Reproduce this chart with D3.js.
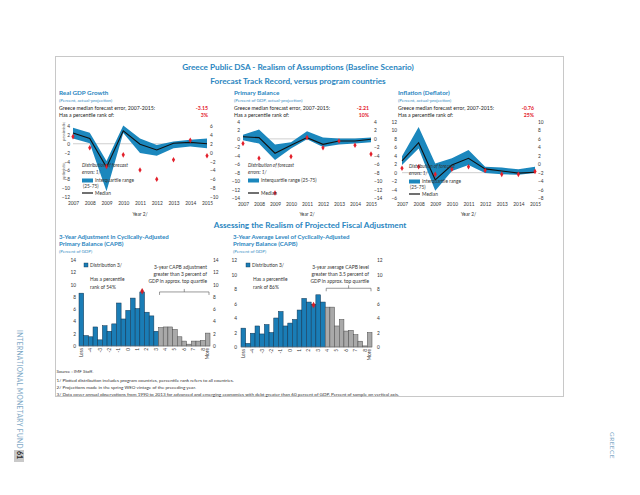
<!DOCTYPE html>
<html><head><meta charset="utf-8">
<script src="https://cdn.jsdelivr.net/npm/d3@7"></script>
<style>body{margin:0;background:#fff}svg{display:block;font-family:Lato,'Open Sans',sans-serif}</style>
</head><body><svg id="c" width="640" height="495"></svg>
<script>
// ---------- data ----------
const years = [2007, 2008, 2009, 2010, 2011, 2012, 2013, 2014, 2015];

const gdpQ75 = [3.6, 2.5, -3.9, 4.1, 1.2, -0.3, 0.5, 0.9, 1.2];
const gdpQ25 = [1.2, 0.1, -10.7, 2.4, -2.1, -2.7, -1.0, -0.6, -1.0];
const gdpMedian = [2.4, 1.2, -5.3, 2.9, -0.1, -1.4, 0.1, 0.3, 0.0];
const gdpGreece = [1.6, -0.9, -5.1, -2.5, -5.9, -8.0, -3.6, 0.8, -2.7];

const pbQ75 = [1.0, 2.2, -1.3, -0.8, 1.8, 0.3, 0.1, 0.1, 0.3];
const pbQ25 = [-0.3, -1.1, -5.0, -2.3, -0.1, -1.9, -1.3, -1.1, -0.8];
const pbMedian = [0.5, 0.3, -3.4, -1.5, 0.3, -1.3, -0.5, -0.5, -0.1];
const pbGreece = [-1.1, -4.6, -12.8, -4.2, 0.3, -2.1, -0.5, -1.5, -3.6];

const infQ75 = [3.9, 10.8, 2.2, 3.4, 5.35, 1.4, 1.2, 0.8, 1.4];
const infQ25 = [1.8, 5.7, -4.3, 0.4, 1.8, -0.1, -0.4, -0.5, -0.1];
const infMedian = [2.8, 7.1, -1.7, 1.8, 3.4, 0.9, 0.4, -0.1, 0.1];
const infGreece = [1.05, 1.4, -0.4, 0.8, 1.4, 0.5, -0.4, -0.4, 0.3];

const gdpLeftTicks = [4, 2, 0, -2, -4, -6, -8, -10, -12];
const gdpRightTicks = [6, 4, 2, 0, -2, -4, -6, -8, -10];
const pbLeftTicks = [4, 2, 0, -2, -4, -6, -8, -10, -12, -14];
const pbRightTicks = [4, 2, 0, -2, -4, -6, -8, -10, -12, -14];
const infLeftTicks = [12, 10, 8, 6, 4, 2, 0, -2, -4, -6];
const infRightTicks = [10, 8, 6, 4, 2, 0, -2, -4, -6, -8];

const binLabels = ["Less", "-4.5", "-4", "-3.5", "-3", "-2.5", "-2", "-1.5", "-1", "-0.5", "0", "0.5", "1", "1.5",
  "2", "2.5", "3", "3.5", "4", "4.5", "5", "5.5", "6", "6.5", "7", "7.5", "8", "More"];
const shownBinLabels = ["Less", "-4", "-3", "-2", "-1", "0", "1", "2", "3", "4", "5", "6", "7", "8", "More"];
const capbAdj = [8.6, 1.7, 1.5, 3.1, 1.0, 3.3, 2.4, 3.6, 7.0, 4.4, 5.8, 7.8, 6.1, 8.8, 5.5, 4.9, 2.4,
  3.0, 3.1, 3.1, 2.7, 1.5, 0.8, 0.3, 0.8, 0.8, 0.9, 2.1];
const capbLevel = [2.6, 0.5, 1.9, 2.9, 1.8, 3.1, 2.0, 4.0, 4.9, 2.9, 3.3, 3.8, 5.1, 6.7, 6.2, 5.9, 7.2, 6.2,
  5.5, 5.5, 2.9, 3.8, 2.2, 2.3, 1.7, 0.8, 0.15, 2.0];
const capbAdjThreshold = 3, capbLevelThreshold = 3.5;
const capbAdjGreece = {bin: "1.5", value: 8.9};
const capbLevelGreece = {bin: "2.5", value: 5.8};
const capbAdjTicks = [0, 2, 4, 6, 8, 10, 12, 14];
const capbLevelTicks = [0, 2, 4, 6, 8, 10, 12];

// ---------- drawing ----------
const svg = d3.select("#c");
const BLUE = "#1b87bd", TITLE = "#2a86bf", RED = "#e3202b";

// page decorations
svg.append("rect").attr("x", 55.5).attr("y", 56.5).attr("width", 508).attr("height", 340)
  .attr("fill", "none").attr("stroke", "#c8c8c8").attr("stroke-width", 1);
svg.append("text").attr("transform", "translate(17,330) rotate(90)")
  .attr("font-size", 6.6).attr("letter-spacing", 0.35).attr("fill", "#7ea9c6")
  .text("INTERNATIONAL MONETARY FUND");
svg.append("rect").attr("x", 14).attr("y", 450).attr("width", 10).attr("height", 12).attr("fill", "#c9c9c9");
svg.append("text").attr("transform", "translate(17,451) rotate(90)")
  .attr("font-size", 7).attr("font-weight", "bold").attr("fill", "#222").text("61");
svg.append("text").attr("transform", "translate(610,432) rotate(90)")
  .attr("font-size", 6.4).attr("letter-spacing", 0.5).attr("fill", "#7ea9c6").text("GREECE");

// titles
svg.append("text").attr("x", 298).attr("y", 69.5).attr("text-anchor", "middle")
  .attr("font-size", 8.2).attr("font-weight", "bold").attr("fill", TITLE)
  .text("Greece Public DSA - Realism of Assumptions (Baseline Scenario)");
svg.append("text").attr("x", 298).attr("y", 83.5).attr("text-anchor", "middle")
  .attr("font-size", 8.2).attr("font-weight", "bold").attr("fill", TITLE)
  .text("Forecast Track Record, versus program countries");
svg.append("text").attr("x", 310).attr("y", 228).attr("text-anchor", "middle")
  .attr("font-size", 8.2).attr("font-weight", "bold").attr("fill", TITLE)
  .text("Assessing the Realism of Projected Fiscal Adjustment");

function txt(x, y, s, o = {}) {
  const t = svg.append("text").attr("x", x).attr("y", y).text(s)
    .attr("font-size", o.size || 5).attr("fill", o.fill || "#222");
  if (o.anchor) t.attr("text-anchor", o.anchor);
  if (o.bold) t.attr("font-weight", "bold");
  if (o.italic) t.attr("font-style", "italic");
  return t;
}

function drawTrack(c) {
  const x = d3.scalePoint().domain(years).range([c.x0, c.x1]);
  const yL = d3.scaleLinear().domain(c.leftDomain).range([c.yBot, c.yTop]);
  const yR = d3.scaleLinear().domain(c.rightDomain).range([c.yBot, c.yTop]);
  const rows = years.map((yr, i) => ({yr, hi: c.q75[i], lo: c.q25[i], med: c.median[i], gr: c.greece[i]}));

  // headings
  txt(c.tx, 95, c.title, {size: 6.3, bold: true, fill: TITLE});
  txt(c.tx, 101.5, c.subtitle, {size: 4.5, fill: "#3b8fc4"});
  txt(c.tx, 110, "Greece median forecast error, 2007-2015:", {size: 5.2});
  txt(c.tx, 116.5, "Has a percentile rank of:", {size: 5.2});
  txt(c.vx, 110, c.err, {size: 5.2, bold: true, fill: RED, anchor: "end"});
  txt(c.vx, 116.5, c.rank, {size: 5.2, bold: true, fill: RED, anchor: "end"});

  // zero line
  svg.append("line").attr("x1", c.x0).attr("x2", c.x1).attr("y1", yL(0)).attr("y2", yL(0))
    .attr("stroke", "#b0b0b0").attr("stroke-width", 0.6);

  // band
  svg.append("path").datum(rows).attr("fill", BLUE)
    .attr("d", d3.area().x(d => x(d.yr)).y0(d => yL(d.lo)).y1(d => yL(d.hi)));
  // median
  svg.append("path").datum(rows).attr("fill", "none").attr("stroke", "#111").attr("stroke-width", 1.1)
    .attr("d", d3.line().x(d => x(d.yr)).y(d => yL(d.med)));
  // Greece
  svg.append("g").selectAll("path").data(rows).join("path")
    .attr("transform", d => `translate(${x(d.yr)},${yL(d.gr)})`)
    .attr("d", d3.symbol(d3.symbolDiamond, 9)).attr("fill", RED);

  // axes
  const gl = svg.append("g").attr("transform", `translate(${c.x0},0)`)
    .call(d3.axisLeft(yL).tickValues(c.leftTicks).tickSize(0).tickPadding(c.padL).tickFormat(d3.format("d")));
  const gr = svg.append("g").attr("transform", `translate(${c.x1},0)`)
    .call(d3.axisRight(yR).tickValues(c.rightTicks).tickSize(0).tickPadding(c.padR).tickFormat(d3.format("d")));
  const gx = svg.append("g").attr("transform", `translate(0,${c.yBot + 5})`)
    .call(d3.axisBottom(x).tickSize(0).tickPadding(0).tickFormat(d3.format("d")));
  [gl, gr, gx].forEach(g => {
    g.select(".domain").remove();
    g.selectAll("text").attr("font-size", 4.8).attr("fill", "#333").attr("font-family", "Lato, sans-serif");
  });
  txt((c.x0 + c.x1) / 2, 216, "Year 2/", {size: 4.8, anchor: "middle", fill: "#333"});

  // legend
  const L = c.legend;
  txt(L.x, L.y, "Distribution of forecast", {size: 4.8, italic: true, fill: "#333"});
  txt(L.x, L.y + 6.5, "errors: 1/", {size: 4.8, italic: true, fill: "#333"});
  svg.append("rect").attr("x", L.x).attr("y", L.y + 11.5).attr("width", 11).attr("height", 4).attr("fill", BLUE);
  txt(L.x + 13, L.y + 15.2, L.iqr, {size: 4.8, fill: "#333"});
  if (L.iqr2) txt(L.x + 1, L.y + 20.5, L.iqr2, {size: 4.8, fill: "#333"});
  svg.append("line").attr("x1", L.x).attr("x2", L.x + 11).attr("y1", L.y + L.medDy).attr("y2", L.y + L.medDy)
    .attr("stroke", "#111").attr("stroke-width", 1.2);
  txt(L.x + 13, L.y + L.medDy + 1.7, "Median", {size: 4.8, fill: "#333"});
}

drawTrack({
  x0: 73, x1: 207, yTop: 126, yBot: 197, leftDomain: [-12, 4], rightDomain: [-10, 6],
  leftTicks: gdpLeftTicks, rightTicks: gdpRightTicks, padL: 3, padR: 3,
  q75: gdpQ75, q25: gdpQ25, median: gdpMedian, greece: gdpGreece,
  title: "Real GDP Growth", subtitle: "(Percent, actual-projection)", tx: 59, vx: 208, err: "-3.15", rank: "3%",
  legend: {x: 82, y: 167, iqr: "Interquartile range", iqr2: "(25-75)", medDy: 26}
});
drawTrack({
  x0: 243, x1: 371, yTop: 122, yBot: 198, leftDomain: [-14, 4], rightDomain: [-14, 4],
  leftTicks: pbLeftTicks, rightTicks: pbRightTicks, padL: 3, padR: 3,
  q75: pbQ75, q25: pbQ25, median: pbMedian, greece: pbGreece,
  title: "Primary Balance", subtitle: "(Percent of GDP, actual-projection)", tx: 234, vx: 369, err: "-2.21", rank: "10%",
  legend: {x: 248, y: 167, iqr: "Interquartile range (25-75)", iqr2: null, medDy: 26}
});
drawTrack({
  x0: 402, x1: 535, yTop: 122, yBot: 198, leftDomain: [-6, 12], rightDomain: [-8, 10],
  leftTicks: infLeftTicks, rightTicks: infRightTicks, padL: 5, padR: 3,
  q75: infQ75, q25: infQ25, median: infMedian, greece: infGreece,
  title: "Inflation (Deflator)", subtitle: "(Percent, actual-projection)", tx: 398, vx: 534, err: "-0.76", rank: "25%",
  legend: {x: 409, y: 168, iqr: "Interquartile range", iqr2: "(25-75)", medDy: 26}
});

// optimistic / pessimistic labels on GDP panel
svg.append("text").attr("transform", "translate(65,141) rotate(-90)").attr("font-size", 4)
  .attr("fill", "#555").text("pessimistic");
svg.append("text").attr("transform", "translate(65,180) rotate(-90)").attr("font-size", 4)
  .attr("fill", "#555").text("optimistic");

function drawHist(c) {
  const x = d3.scaleBand().domain(binLabels).range([c.x0, c.x1]).padding(0);
  const y = d3.scaleLinear().domain([0, c.max]).range([c.yBot, c.yTop]);
  const rows = binLabels.map((b, i) => ({b, v: c.values[i],
    grey: b === "More" || (b !== "Less" && +b > c.threshold)}));

  txt(c.tx, 239, c.title1, {size: 6.1, bold: true, fill: TITLE});
  txt(c.tx, 246, c.title2, {size: 6.1, bold: true, fill: TITLE});
  txt(c.tx, 252.5, "(Percent of GDP)", {size: 4.5, fill: "#3b8fc4"});

  svg.append("g").selectAll("rect").data(rows).join("rect")
    .attr("x", d => x(d.b)).attr("width", x.bandwidth())
    .attr("y", d => y(d.v)).attr("height", d => y(0) - y(d.v))
    .attr("fill", d => d.grey ? "#a9a9a9" : "#1a7db6")
    .attr("stroke", d => d.grey ? "#4a4a4a" : "#10334f").attr("stroke-width", 0.5);
  svg.append("line").attr("x1", c.x0).attr("x2", c.x1).attr("y1", y(0)).attr("y2", y(0))
    .attr("stroke", "#888").attr("stroke-width", 0.5);

  svg.append("path").attr("d", d3.symbol(d3.symbolDiamond, 12)())
    .attr("transform", `translate(${x(c.greece.bin) + x.bandwidth() / 2},${y(c.greece.value)})`)
    .attr("fill", "#d0202a");

  const gl = svg.append("g").attr("transform", `translate(${c.x0},0)`)
    .call(d3.axisLeft(y).tickValues(c.ticks).tickSize(0).tickPadding(c.padL));
  const gr = svg.append("g").attr("transform", `translate(${c.x1},0)`)
    .call(d3.axisRight(y).tickValues(c.ticks).tickSize(0).tickPadding(c.padR));
  const gx = svg.append("g").attr("transform", `translate(0,${c.yBot + 2})`)
    .call(d3.axisBottom(x).tickValues(shownBinLabels).tickSize(0).tickPadding(0));
  [gl, gr, gx].forEach(g => {
    g.select(".domain").remove();
    g.selectAll("text").attr("font-size", 4.8).attr("fill", "#333").attr("font-family", "Lato, sans-serif");
  });
  gx.selectAll("text").attr("transform", "rotate(-90)").attr("text-anchor", "end")
    .attr("dy", "0.32em").attr("x", 0).attr("y", 0);

  // legend
  svg.append("rect").attr("x", c.x0 + 5).attr("y", 263).attr("width", 4).attr("height", 4).attr("fill", "#1a7db6")
    .attr("stroke", "#10334f").attr("stroke-width", 0.4);
  txt(c.x0 + 11, 267, "Distribution 3/", {size: 4.9, fill: "#333"});
  txt(c.rankX, 281, "Has a percentile", {size: 4.9, fill: "#333"});
  txt(c.rankX, 288.5, "rank of " + c.rank, {size: 4.9, fill: "#333"});
  c.note.forEach((s, i) => txt(c.x1 - 3, 269 + i * 7.2, s, {size: 4.9, anchor: "end", fill: "#333"}));

  // bracket over top quartile
  const bx0 = x(rows.find(d => d.grey).b) + 1, bx1 = c.x1 - 1, by = y(c.bracketAt);
  const mid = (bx0 + bx1) / 2;
  svg.append("path").attr("fill", "none").attr("stroke", "#555").attr("stroke-width", 0.6)
    .attr("d", `M${bx0},${by + 3}V${by}H${bx1}V${by + 3}M${mid},${by}V${by - 3}`);
}

drawHist({
  x0: 79, x1: 210, yTop: 260, yBot: 346, max: 14, ticks: capbAdjTicks, padL: 3, padR: 3,
  values: capbAdj, threshold: capbAdjThreshold, greece: capbAdjGreece,
  title1: "3-Year Adjustment in Cyclically-Adjusted", title2: "Primary Balance (CAPB)", tx: 59,
  rank: "54%", rankX: 90, bracketAt: 8.8,
  note: ["3-year CAPB adjustment", "greater than 3 percent of", "GDP in approx. top quartile"]
});
drawHist({
  x0: 241, x1: 372, yTop: 260, yBot: 347, max: 12, ticks: capbLevelTicks, padL: 4, padR: 5,
  values: capbLevel, threshold: capbLevelThreshold, greece: capbLevelGreece,
  title1: "3-Year Average Level of Cyclically-Adjusted", title2: "Primary Balance (CAPB)", tx: 233,
  rank: "86%", rankX: 253, bracketAt: 8.1,
  note: ["3-year average CAPB level", "greater than 3.5 percent of", "GDP in approx. top quartile"]
});

// footnotes
const notes = [
  "Source : IMF Staff.",
  "1/ Plotted distribution includes program countries, percentile rank refers to all countries.",
  "2/ Projections made in the spring WEO vintage of the preceding year.",
  "3/ Data cover annual observations from 1990 to 2013 for advanced and emerging economies with debt greater than 60 percent of GDP. Percent of sample on vertical axis."
];
notes.forEach((s, i) => txt(56.5, 373.3 + [0, 8.3, 15.7, 22.3][i], s, {size: 4.6, fill: "#333"}));
</script></body></html>
